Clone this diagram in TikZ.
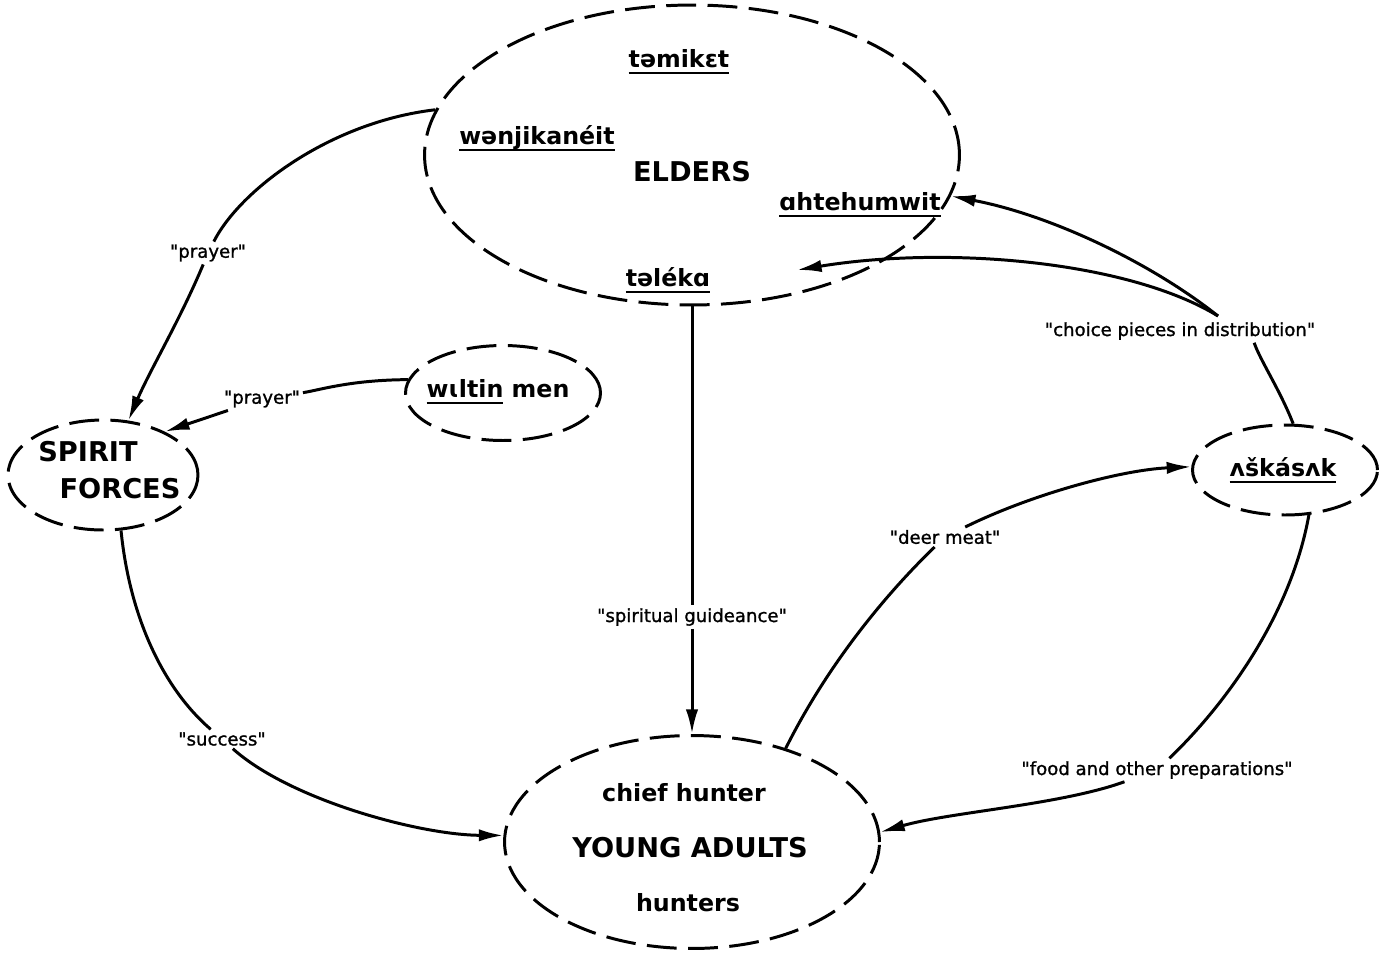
\documentclass[tikz,border=0pt]{standalone}
\usepackage{fontspec}
\setmainfont{DejaVu Sans}
\usetikzlibrary{arrows.meta, positioning, shapes.geometric}

% thick underline for the native terms
\newcommand{\ulword}[1]{\leavevmode\setbox0=\hbox{#1}\rlap{\vrule width\wd0 height -2.6pt depth 3.9pt}\box0\relax}
% straight quotes round a label
\newcommand{\qt}[1]{\textquotedbl#1\textquotedbl}

\begin{document}
\begin{tikzpicture}[
  x=0.02cm, y=-0.02cm,
  group/.style={draw, ellipse, line width=1.7pt, dash pattern=on 17pt off 6.5pt, inner sep=0pt},
  big/.style={font=\fontsize{15.5}{18}\selectfont\bfseries},
  word/.style={font=\fontsize{13.5}{16}\selectfont\bfseries},
  lbl/.style={font=\fontsize{10.3}{12}\selectfont\addfontfeature{FakeBold=1.2}, inner sep=1.5pt},
  link/.style={line width=1.7pt},
  arrow/.style={-{Latex[length=14pt, width=7pt]}, line width=1.7pt}
]
\useasboundingbox (0,0) rectangle (1380,958);

% Elders
\node[group, minimum width=10.7cm, minimum height=6cm] (Elders) at (692,155) {};
\node[word] (tamiket) at (679,62) {\ulword{təmikɛt}};
\node[word] (wanjik) at (537,138) {\ulword{wənjikanéit}};
\node[big] (eldersTxt) at (692,172) {ELDERS};
\node[word] (ahte) at (860,205) {\ulword{ɑhtehumwit}};
\node[word] (taleka) at (668,280) {\ulword{təlékɑ}};
\coordinate (talekaTip) at (797,270);

% Spirit forces
\node[group, minimum width=3.8cm, minimum height=2.2cm] (Spirit) at (103,475) {};
\node[big] (spiritTxt) at (88,452) {SPIRIT};
\node[big] (forcesTxt) at (120,489) {FORCES};

% wiltin men
\node[group, minimum width=3.9cm, minimum height=1.9cm] (Wiltin) at (503,393) {};
\node[word] (wiltinTxt) at (498,392) {\ulword{wɩltin} men};

% askasak
\node[group, minimum width=3.7cm, minimum height=1.8cm] (Askasak) at (1285,470) {};
\node[word] (askasakTxt) at (1283,470) {\ulword{ʌškásʌk}};

% Young adults
\node[group, minimum width=7.5cm, minimum height=4.26cm] (Young) at (692,842) {};
\node[word] (chief) at (684,793) {chief hunter};
\node[big] (youngTxt) at (690,848) {YOUNG ADULTS};
\node[word] (hunters) at (688,903) {hunters};

% Labels
\node[lbl] (prayerA) at (208,253) {\qt{prayer}};
\node[lbl] (prayerB) at (262,399) {\qt{prayer}};
\node[lbl] (success) at (222,739) {\qt{success}};
\node[lbl] (guide) at (692,617) {\qt{spiritual guideance}};
\node[lbl] (deer) at (945,537) {\qt{deer meat}};
\node[lbl] (food) at (1157,770) {\qt{food and other preparations}};
\node[lbl] (choice) at (1180,331) {\qt{choice pieces in distribution}};
\coordinate (split) at (1218,316);

% Arrows
\draw[link] (Elders.170) .. controls (330,122) and (240,190) .. (prayerA);
\draw[arrow] (prayerA) .. controls (180,320) and (150,370) .. (Spirit.65);

\draw[link] (Wiltin.172) .. controls (350,380) and (320,390) .. (prayerB);
\draw[arrow] (prayerB) -- (Spirit.35);

\draw[link] (Spirit.-72) .. controls (130,620) and (165,690) .. (success);
\draw[arrow] (success) .. controls (290,800) and (420,835) .. (Young.178);

\draw[link] (Elders.south) -- (guide);
\draw[arrow] (guide) -- (Young.north);

\draw[link] (Young.45) .. controls (830,660) and (890,590) .. (deer);
\draw[arrow] (deer) .. controls (1030,495) and (1120,470) .. (Askasak.178);

\draw[link] (Askasak.-62) .. controls (1290,620) and (1220,710) .. (food);
\draw[arrow] (food) .. controls (1060,805) and (950,812) .. (Young.3);

\draw[link] (Askasak.80) .. controls (1280,390) and (1260,360) .. (choice.-9);
\draw[arrow] (split) .. controls (1150,262) and (1050,215) .. (Elders.-9);
\draw[arrow] (split) .. controls (1130,262) and (950,245) .. (talekaTip);

\end{tikzpicture}
\end{document}
